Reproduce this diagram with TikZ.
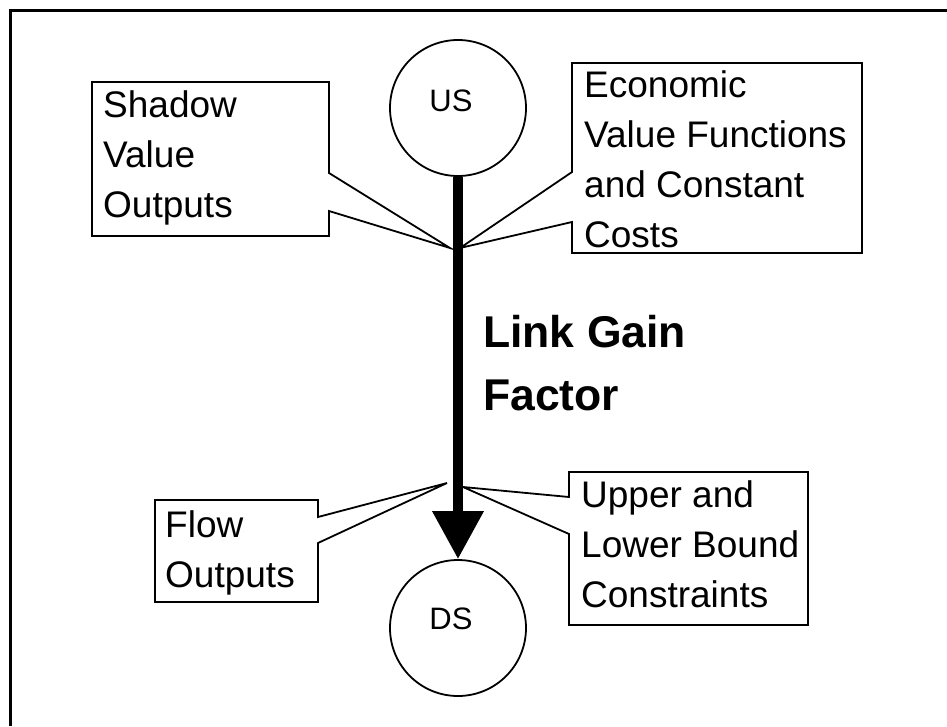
\documentclass[tikz,border=0pt]{standalone}
\usepackage{fontspec}
\setmainfont{Liberation Sans}
\usetikzlibrary{arrows.meta}
\begin{document}
\begin{tikzpicture}[x=1pt,y=-1pt,
  circ/.style={draw,circle,line width=1.8pt,minimum size=136pt,inner sep=0pt},
  callout/.style={draw,line width=1.8pt,line join=miter},
  boxtext/.style={anchor=north west,inner sep=0pt,align=left,font=\fontsize{37}{50}\selectfont},
  circtext/.style={inner sep=0pt,font=\fontsize{31}{36}\selectfont},
  linktext/.style={anchor=north west,inner sep=0pt,align=left,font=\bfseries\fontsize{44.5}{63}\selectfont},
  flow/.style={line width=10pt,-{Triangle[width=49pt,length=48pt]}}]
\useasboundingbox (0,0) rectangle (947,726);
% outer frame (only left and top edges visible)
\draw[line width=2.5pt] (10.5,726) -- (10.5,10.5) -- (947,10.5);
% nodes
\node[circ] (us) at (458,108) {};
\node[circtext] (ustxt) at (451,101) {US};
\node[circ] (ds) at (458,628) {};
\node[circtext] (dstxt) at (451,619) {DS};
\draw[flow] (us) -- (ds);
\node[linktext] (link) at (483,315) {Link Gain\\Factor};
% callouts
\coordinate (svtip) at (450,248);
\draw[callout] (92,82) -- (329,82) -- (329,173) -- (svtip) -- (329,211) -- (329,236) -- (92,236) -- cycle;
\node[boxtext] (sv) at (103,90.5) {Shadow\\Value\\Outputs};
\coordinate (evtip) at (460,248);
\draw[callout] (572,63) -- (862,63) -- (862,253) -- (572,253) -- (572,222) -- (evtip) -- (572,172) -- cycle;
\node[boxtext] (ev) at (584,70.5) {Economic\\Value Functions\\and Constant\\Costs};
\coordinate (fotip) at (447,483);
\draw[callout] (155,500) -- (318,500) -- (318,517) -- (fotip) -- (318,543) -- (318,602) -- (155,602) -- cycle;
\node[boxtext] (fo) at (165,510.5) {Flow\\Outputs};
\coordinate (ubtip) at (463,487);
\draw[callout] (569,472) -- (808,472) -- (808,625) -- (569,625) -- (569,534) -- (ubtip) -- (569,497) -- cycle;
\node[boxtext] (ub) at (581,480.5) {Upper and\\Lower Bound\\Constraints};
\end{tikzpicture}
\end{document}
